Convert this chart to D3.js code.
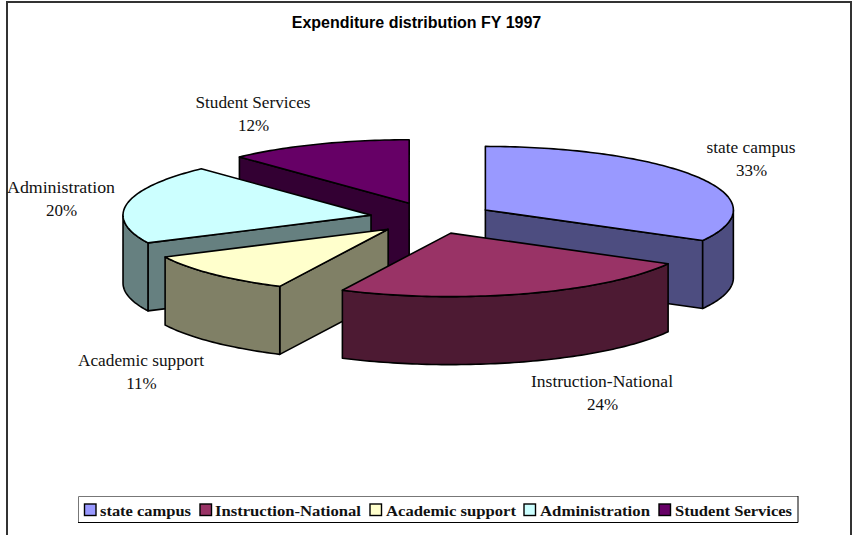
<!DOCTYPE html>
<html>
<head>
<meta charset="utf-8">
<script src="https://cdn.jsdelivr.net/npm/d3@7"></script>
<style>
html,body{margin:0;padding:0;background:#fff;overflow:hidden}
svg{display:block}
</style>
</head>
<body>
<svg id="chart" width="853" height="535"></svg>
<script>
const chartTitle = "Expenditure distribution FY 1997";
const categories = ["state campus", "Instruction-National", "Academic support", "Administration", "Student Services"];
const shares = [33.0, 24.2, 10.6, 20.2, 12.0];
const colors = ["#9999FF", "#993366", "#FFFFCC", "#CCFFFF", "#660066"];
// Painter's order, back to front
const drawOrder = ["Student Services", "state campus", "Administration", "Academic support", "Instruction-National"];

const W = 853, H = 535;
const cx = 432, cy = 218, rx = 248, ry = 63.5, depth = 68, explode = 0.25;
const labelFont = '"Liberation Serif", serif';

const svg = d3.select("#chart");
const x = d3.scaleLinear().domain([-1, 1]).range([cx - rx, cx + rx]);
const y = d3.scaleLinear().domain([-1, 1]).range([cy + ry, cy - ry]);

const pie = d3.pie().sort(null).value(d => d.value).startAngle(0).endAngle(2 * Math.PI);
const rows = categories.map((name, i) => ({name, value: shares[i], color: colors[i]}));
const arcs = pie(rows);
const pct = d3.format(".0f");

const line = d3.line().curve(d3.curveLinear);

function pt(a, r, mid, dz) {
  const ox = explode * Math.sin(mid), oy = explode * Math.cos(mid);
  return [x(ox + r * Math.sin(a)), y(oy + r * Math.cos(a)) + (dz || 0)];
}
function arcPts(a0, a1, mid, dz) {
  const n = Math.max(2, Math.ceil((a1 - a0) / 0.02));
  return d3.range(n + 1).map(i => pt(a0 + (a1 - a0) * i / n, 1, mid, dz));
}
function shade(c) {
  const k = d3.rgb(c);
  return d3.rgb(k.r / 2, k.g / 2, k.b / 2).formatHex();
}

// Frame
svg.append("path")
  .attr("d", `M7,${H}V2H851V${H}`)
  .attr("fill", "none").attr("stroke", "#333").attr("stroke-width", 2);

// Title
svg.append("text").attr("x", 416.5).attr("y", 28)
  .attr("text-anchor", "middle")
  .attr("font-family", '"Liberation Sans", Arial, sans-serif')
  .attr("font-weight", "bold").attr("font-size", 16)
  .text(chartTitle);

// Slices
const ordered = drawOrder.map(n => arcs.find(a => a.data.name === n));
const g = svg.append("g").attr("stroke", "#000").attr("stroke-width", 1.6).attr("stroke-linejoin", "round");

ordered.forEach(d => {
  const a0 = d.startAngle, a1 = d.endAngle, mid = (a0 + a1) / 2;
  const dark = shade(d.data.color);
  const slice = g.append("g").attr("class", "slice");
  const apex = pt(0, 0, mid);

  // Radial walls facing the viewer
  if (Math.sin(a1) > 0.001) {
    const e = pt(a1, 1, mid);
    slice.append("path").attr("fill", dark).attr("d",
      line([apex, e, [e[0], e[1] + depth], [apex[0], apex[1] + depth]]) + "Z");
  }
  if (Math.sin(a0) < -0.001) {
    const e = pt(a0, 1, mid);
    slice.append("path").attr("fill", dark).attr("d",
      line([apex, e, [e[0], e[1] + depth], [apex[0], apex[1] + depth]]) + "Z");
  }
  // Outer wall: front half of the rim only
  const v0 = Math.max(a0, Math.PI / 2), v1 = Math.min(a1, 3 * Math.PI / 2);
  if (v1 > v0) {
    const topEdge = arcPts(v0, v1, mid);
    const botEdge = arcPts(v0, v1, mid, depth).reverse();
    slice.append("path").attr("fill", dark).attr("d", line(topEdge.concat(botEdge)) + "Z");
  }
  // Top face
  slice.append("path").attr("fill", d.data.color).attr("d",
    line([apex].concat(arcPts(a0, a1, mid))) + "Z");
});

// Data labels
const labelX = [751, 602, 141, 61, 253];
const labelY = [153, 387, 366, 193, 108];
const labelWidths = [89, 142, 126, 108, 115];
const labels = svg.append("g").attr("font-family", labelFont).attr("font-size", 16).attr("fill", "#111");
rows.forEach((r, i) => {
  labels.append("text").attr("x", labelX[i]).attr("y", labelY[i])
    .attr("text-anchor", "middle")
    .attr("textLength", labelWidths[i]).attr("lengthAdjust", "spacingAndGlyphs")
    .text(r.name);
  labels.append("text").attr("x", labelX[i] + 0.5).attr("y", labelY[i] + 22.5)
    .attr("text-anchor", "middle").attr("font-size", 17)
    .text(pct(r.value) + "%");
});

// Legend
svg.append("path").attr("d", "M78.5,523V496.5H798").attr("fill", "none").attr("stroke", "#777").attr("stroke-width", 1);
svg.append("path").attr("d", "M78,522.5H798V496").attr("fill", "none").attr("stroke", "#000").attr("stroke-width", 1);

const legendSwatchX = [85, 200.5, 370.5, 524.5, 659.5];
const legendTextX = [100, 215, 386, 540, 675];
const legendTextW = [91, 146, 130, 110, 117];
const legend = svg.append("g");
rows.forEach((r, i) => {
  legend.append("rect").attr("x", legendSwatchX[i] - 0.5).attr("y", 504).attr("width", 11.5).attr("height", 11.5)
    .attr("fill", r.color).attr("stroke", "#000").attr("stroke-width", 1.4);
  legend.append("text").attr("x", legendTextX[i]).attr("y", 516)
    .attr("font-family", labelFont).attr("font-weight", "bold").attr("font-size", 15.5).attr("fill", "#111")
    .attr("textLength", legendTextW[i]).attr("lengthAdjust", "spacingAndGlyphs")
    .text(r.name);
});
</script>
</body>
</html>
